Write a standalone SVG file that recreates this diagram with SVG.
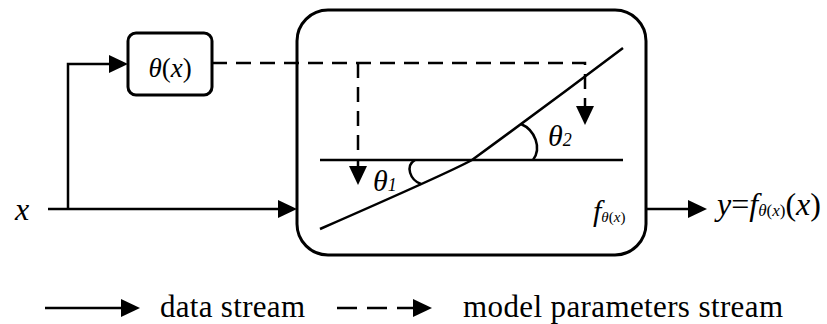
<svg xmlns="http://www.w3.org/2000/svg" width="827" height="324" viewBox="0 0 827 324" font-family="Liberation Serif">
<style>
.ln{fill:none;stroke:#000;stroke-width:2.5}
.ds{fill:none;stroke:#000;stroke-width:2.5;stroke-dasharray:15 9}
.box{fill:#fff;stroke:#000;stroke-width:3}
.i{font-style:italic}
</style>
<defs>
<marker id="ah" viewBox="0 0 19 18" markerWidth="19" markerHeight="18" markerUnits="userSpaceOnUse" refX="1" refY="9" orient="auto">
<path d="M0,0 L19,9 L0,18 Z" fill="#000"/>
</marker>
</defs>
<g id="main-box">
<rect class="box" x="297" y="10" width="349" height="245" rx="31" ry="31"/>
<path class="ln" d="M320,160 H623"/>
<path class="ln" d="M320,229 C400,194 450,172 472,160 C520,125 570,88 623,48"/>
<path class="ln" d="M415,160 C405,166 410,180 421,184"/>
<path class="ln" d="M533,160 C542,148 535,130 521,124"/>
<text class="i" style="font-family:'Liberation Serif',serif" x="373" y="191" font-size="30">θ<tspan font-size="18">1</tspan></text>
<text class="i" style="font-family:'Liberation Serif',serif" x="548" y="146" font-size="30">θ<tspan font-size="18">2</tspan></text>
<text style="font-family:'Liberation Serif',serif" x="593" y="221" font-size="30"><tspan class="i">f</tspan><tspan font-size="15" dy="1"><tspan class="i">θ</tspan>(<tspan class="i">x</tspan>)</tspan></text>
</g>
<g id="theta-box">
<rect class="box" x="128" y="33" width="84" height="62" rx="8" ry="8"/>
<text style="font-family:'Liberation Serif',serif" x="170" y="77" font-size="27" text-anchor="middle"><tspan class="i">θ</tspan>(<tspan class="i">x</tspan>)</text>
</g>
<g id="input-label">
<text class="i" style="font-family:'Liberation Serif',serif" x="15" y="220" font-size="32">x</text>
</g>
<g id="output-label">
<text style="font-family:'Liberation Serif',serif" x="717" y="215" font-size="32"><tspan class="i">y</tspan>=<tspan class="i">f</tspan><tspan font-size="17" dy="1"><tspan class="i">θ</tspan>(<tspan class="i">x</tspan>)</tspan><tspan dy="-1">(<tspan class="i">x</tspan>)</tspan></text>
</g>
<g id="connectors">
<path class="ln" d="M48,209 H279" marker-end="url(#ah)"/>
<path class="ln" d="M68,209 V64 H110" marker-end="url(#ah)"/>
<path class="ds" d="M212,63 H585 V107" marker-end="url(#ah)"/>
<path class="ds" d="M358,63 V167" marker-end="url(#ah)"/>
<path class="ln" d="M647,209 H689" marker-end="url(#ah)"/>
</g>
<g id="legend">
<path class="ln" d="M45,308 H122" marker-end="url(#ah)"/>
<text style="font-family:'Liberation Serif',serif" x="160" y="317" font-size="31" textLength="145">data stream</text>
<path class="ln" d="M337,308 H414" stroke-dasharray="20 10" marker-end="url(#ah)"/>
<text style="font-family:'Liberation Serif',serif" x="463" y="317" font-size="31" textLength="320">model parameters stream</text>
</g>
</svg>
